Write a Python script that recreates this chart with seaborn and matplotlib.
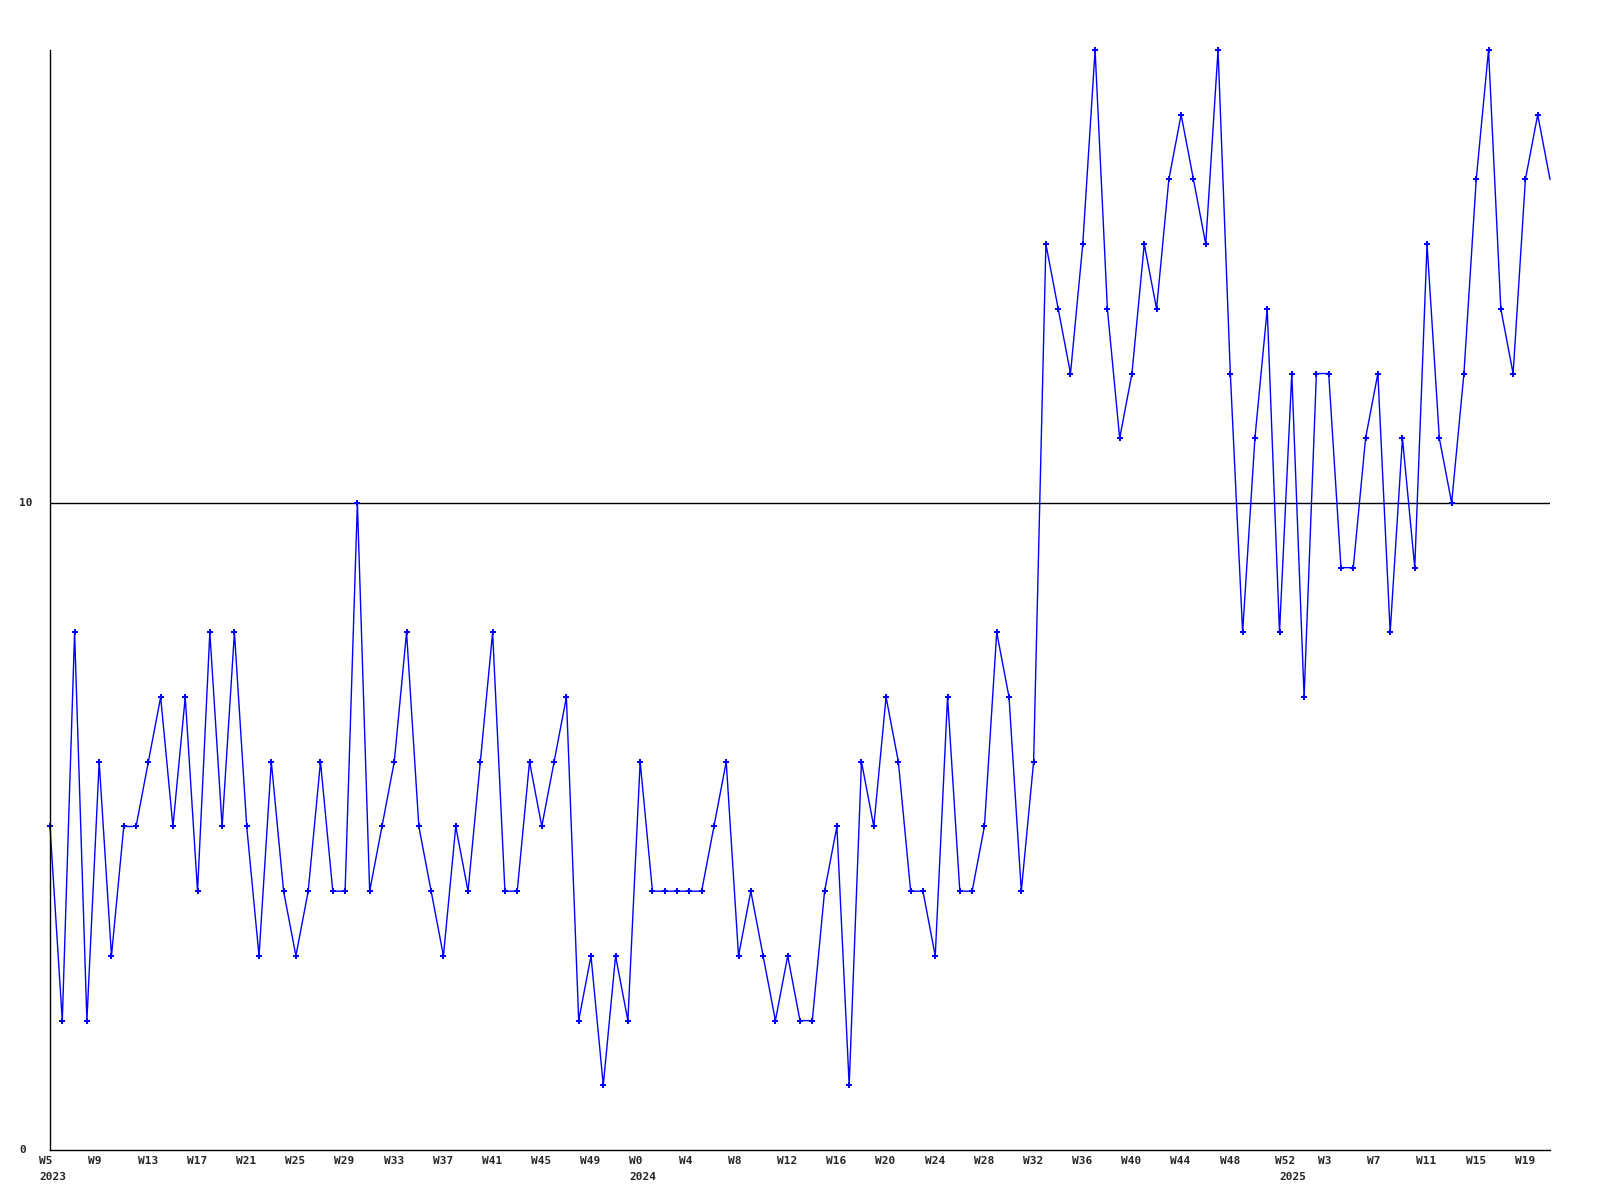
import numpy as np
import seaborn as sns
import matplotlib.pyplot as plt
import matplotlib.transforms as mtransforms

# weekly values, W5 2023 .. W20 2025
values = [5, 2, 8, 2, 6, 3, 5, 5, 6, 7,
          5, 7, 4, 8, 5, 8, 5, 3, 6, 4,
          3, 4, 6, 4, 4, 10, 4, 5, 6, 8,
          5, 4, 3, 5, 4, 6, 8, 4, 4, 6,
          5, 6, 7, 2, 3, 1, 3, 2, 6, 4,
          4, 4, 4, 4, 5, 6, 3, 4, 3, 2,
          3, 2, 2, 4, 5, 1, 6, 5, 7, 6,
          4, 4, 3, 7, 4, 4, 5, 8, 7, 4,
          6, 14, 13, 12, 14, 17, 13, 11, 12, 14,
          13, 15, 16, 15, 14, 17, 12, 8, 11, 13,
          8, 12, 7, 12, 12, 9, 9, 11, 12, 8,
          11, 9, 14, 11, 10, 12, 15, 17, 13, 12,
          15, 16, 15]

week_labels = (["W%d" % w for w in range(5, 53, 4)]
               + ["W%d" % w for w in range(0, 53, 4)]
               + ["W%d" % w for w in range(3, 20, 4)])
years = ["2023", "2024", "2025"]
year_pos = [-0.87, 47.13, 100.0]
ytick_vals = [0, 10]

x = np.arange(len(values))

sns.set_style("white")
plt.rcParams['font.family'] = ['DejaVu Sans Mono']

fig = plt.figure(figsize=(16, 12), dpi=100)
ax = fig.add_axes([50/1600, 50/1200, 1500/1600, 1100/1200])

sns.lineplot(x=x, y=values, ax=ax, color="#0000ff", linewidth=1,
             marker="P", markersize=4.5, markeredgewidth=0,
             markevery=list(range(len(values) - 1)), clip_on=False)

ax.axhline(10, color="black", linewidth=1, zorder=0)

ax.set_xticks([])
ax.set_yticks([])
ax.set_xlim(0, len(values) - 1)
ax.set_ylim(0, 17)

for s in ["top", "right"]:
    ax.spines[s].set_visible(False)
for s in ["left", "bottom"]:
    ax.spines[s].set_color("black")
    ax.spines[s].set_linewidth(1)

# y labels, left aligned near the figure edge
ytrans = mtransforms.blended_transform_factory(fig.transFigure, ax.transData)
for v in ytick_vals:
    ax.text(19.5/1600, v, str(v), transform=ytrans, ha="left", va="center",
            fontsize=8, fontweight="bold")

# week labels, left aligned at each 4th week
xtrans = mtransforms.blended_transform_factory(ax.transData, ax.transAxes)
for k, lab in enumerate(week_labels):
    pos = 4 * k - 0.87
    if lab == "W52":
        pos = 99.6
    ax.text(pos, -11/1100, lab, transform=xtrans, ha="left", va="center",
            fontsize=8, fontweight="bold", clip_on=False)
for yr, pos in zip(years, year_pos):
    ax.text(pos, -27/1100, yr, transform=xtrans, ha="left", va="center",
            fontsize=8, fontweight="bold", clip_on=False)

ax.set_xlabel("")
ax.set_ylabel("")
ax.grid(False)

fig.savefig("out.png", dpi=100)
